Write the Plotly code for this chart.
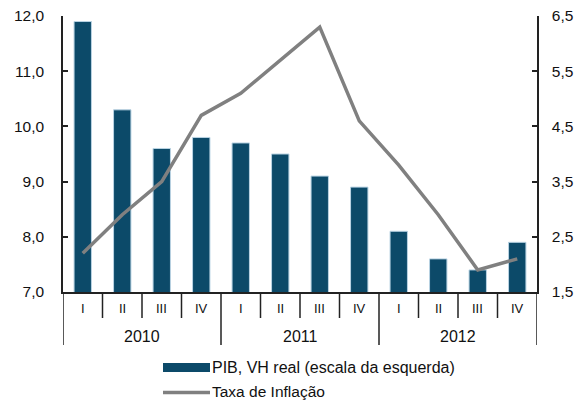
import plotly.graph_objects as go

years = ["2010"] * 4 + ["2011"] * 4 + ["2012"] * 4
quarters = ["I", "II", "III", "IV"] * 3
pib = [11.9, 10.3, 9.6, 9.8, 9.7, 9.5, 9.1, 8.9, 8.1, 7.6, 7.4, 7.9]
inflacao = [2.2, 2.9, 3.5, 4.7, 5.1, 5.7, 6.3, 4.6, 3.8, 2.9, 1.9, 2.1]
bar_name = "PIB, VH real (escala da esquerda)"
line_name = "Taxa de Inflação"

FONT = "Liberation Sans, Arial, sans-serif"
BAR_COLOR = "#0c4a69"
LINE_COLOR = "#808080"
AX_COLOR = "#222222"
TXT = "#111111"

W, H = 582, 400
ML, MT, MR, MB = 63, 16, 45, 108
PW, PH = W - ML - MR, H - MT - MB  # 474 x 276


def py(px_below):  # pixels below plot bottom -> paper y
    return -px_below / PH


def pxx(page_x):  # page x -> paper x
    return (page_x - ML) / PW


idx = list(range(len(pib)))

fig = go.Figure()
fig.add_trace(go.Bar(
    x=idx, y=pib, name=bar_name,
    marker=dict(color=BAR_COLOR, line=dict(color="#b9d3e3", width=1)),
    width=0.44, showlegend=False,
))
fig.add_trace(go.Scatter(
    x=idx, y=inflacao, name=line_name, yaxis="y2",
    mode="lines", line=dict(color=LINE_COLOR, width=3.5), showlegend=False,
))

fig.update_layout(
    width=W, height=H,
    margin=dict(l=ML, r=MR, t=MT, b=MB),
    paper_bgcolor="white", plot_bgcolor="white",
    separators=",.",
    font=dict(family=FONT, size=15.5, color=TXT),
    xaxis=dict(
        range=[-0.5, len(idx) - 0.5], automargin=False,
        showline=True, linecolor=AX_COLOR, linewidth=1.5,
        showticklabels=False, ticks="", showgrid=False, zeroline=False,
    ),
    yaxis=dict(
        range=[7, 12], dtick=1, tickformat=".1f", automargin=False,
        ticklabeloverflow="allow", ticklabelstandoff=14,
        showline=True, linecolor=AX_COLOR, linewidth=1.5,
        ticks="inside", ticklen=5, tickcolor=AX_COLOR, tickwidth=1.5,
        showgrid=False, zeroline=False, tickfont=dict(size=15.5, family=FONT, color=TXT),
    ),
    yaxis2=dict(
        range=[1.5, 6.5], tick0=1.5, dtick=1, tickformat=".1f", overlaying="y", side="right",
        automargin=False, ticklabeloverflow="allow", ticklabelstandoff=10,
        showline=True, linecolor=AX_COLOR, linewidth=1.5,
        ticks="inside", ticklen=5, tickcolor=AX_COLOR, tickwidth=1.5,
        showgrid=False, zeroline=False, tickfont=dict(size=15.5, family=FONT, color=TXT),
    ),
)

# category axis: quarter labels, year labels, boundary ticks and group dividers
for i, q in enumerate(quarters):
    fig.add_annotation(xref="x", yref="paper", x=i, y=py(16), text=q, showarrow=False,
                       xanchor="center", yanchor="middle",
                       font=dict(size=13, family=FONT, color=TXT))
unique_years = list(dict.fromkeys(years))
for yr in unique_years:
    members = [i for i, v in enumerate(years) if v == yr]
    fig.add_annotation(xref="x", yref="paper", x=sum(members) / len(members), y=py(44),
                       text=yr, showarrow=False, xanchor="center", yanchor="middle",
                       font=dict(size=16, family=FONT, color=TXT))
for i in range(len(idx) + 1):
    b = i - 0.5
    is_group = i == 0 or i == len(idx) or years[i] != years[i - 1]
    fig.add_shape(type="line", xref="x", yref="paper", x0=b, x1=b,
                  y0=0, y1=py(53 if is_group else 26),
                  line=dict(color=AX_COLOR, width=1.5))

# manual legend
fig.add_shape(type="rect", xref="paper", yref="paper",
              x0=pxx(163), x1=pxx(210), y0=py(372 - 292), y1=py(363 - 292),
              fillcolor=BAR_COLOR, line=dict(width=0))
fig.add_shape(type="line", xref="paper", yref="paper",
              x0=pxx(163), x1=pxx(210), y0=py(392.5 - 292), y1=py(392.5 - 292),
              line=dict(color=LINE_COLOR, width=3.5))
fig.add_annotation(xref="paper", yref="paper", x=pxx(210), y=py(367.5 - 292),
                   text=bar_name, showarrow=False, xanchor="left", yanchor="middle",
                   font=dict(size=16, family=FONT, color=TXT))
fig.add_annotation(xref="paper", yref="paper", x=pxx(210), y=py(391 - 292),
                   text=line_name, showarrow=False, xanchor="left", yanchor="middle",
                   font=dict(size=15.5, family=FONT, color=TXT))

fig.write_html("out.html", config={"displayModeBar": False},
               post_script="document.body.style.margin='0';")
